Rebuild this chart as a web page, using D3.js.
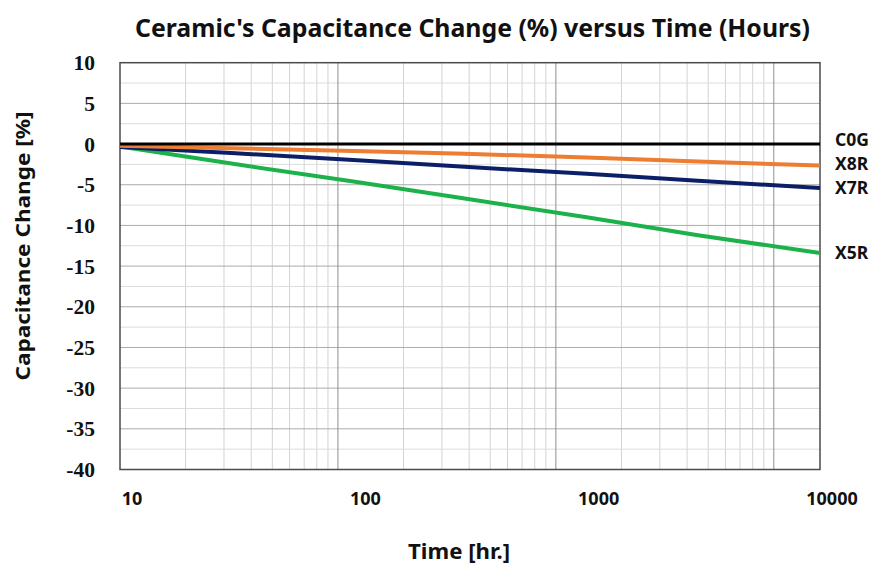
<!DOCTYPE html>
<html>
<head>
<meta charset="utf-8">
<script src="https://cdn.jsdelivr.net/npm/d3@7"></script>
<style>
  html, body { margin: 0; padding: 0; background: #fff; }
  svg { display: block; }
</style>
</head>
<body>
<svg id="chart" width="873" height="565"></svg>
<script>
// ---- data ----
const hours = [10, 30, 100, 300, 1000, 3000, 10000];
const seriesNames = ["X5R", "X7R", "X8R", "C0G"];
const c0g = [0, 0, 0, 0, 0, 0, 0];
const x8r = [-0.2, -0.5, -0.85, -1.2, -1.65, -2.15, -2.65];
const x7r = [-0.35, -1.1, -1.95, -2.8, -3.65, -4.5, -5.4];
const x5r = [-0.3, -2.4, -4.6, -6.7, -9.0, -11.2, -13.4];
const xTickLabels = [10, 100, 1000, 10000];
const yTickLabels = [10, 5, 0, -5, -10, -15, -20, -25, -30, -35, -40];
const titleText = "Ceramic's Capacitance Change (%) versus Time (Hours)";
const xTitle = "Time [hr.]";
const yTitle = "Capacitance Change [%]";

// ---- layout / style ----
const plotL = 120, plotR = 820, plotT = 62.7, plotB = 469.5;
const gridDecadeFrac = 0.934;   // grid decades are drawn slightly narrower than the data decades
const colors = { C0G: "#000000", X8R: "#ED7D31", X7R: "#0B1F66", X5R: "#1DB14B" };
const widths = { C0G: 3, X8R: 4, X7R: 4, X5R: 4 };
const sans = "'Noto Sans', 'Open Sans', sans-serif";
const serif = "'Liberation Serif', 'DejaVu Serif', serif";
const labelGap = 24;

const values = { C0G: c0g, X8R: x8r, X7R: x7r, X5R: x5r };

const svg = d3.select("#chart");

const x = d3.scaleLog().domain([10, 10000]).range([plotL, plotR]);
const xGrid = d3.scaleLog().domain([10, 10000]).range([plotL, plotL + (plotR - plotL) * gridDecadeFrac]);
const y = d3.scaleLinear().domain([-40, 10]).range([plotB, plotT]);

// grid values
const gridMinor = [], gridMajor = [];
[10, 100, 1000].forEach(d => {
  for (let k = 2; k <= 9; k++) gridMinor.push(d * k);
  gridMajor.push(d * 10);
});
const hMinor = d3.range(-37.5, 10, 5);
const hMajor = d3.range(-35, 10, 5);

const g = svg.append("g");

g.selectAll("line.vminor").data(gridMinor).join("line")
  .attr("x1", d => xGrid(d)).attr("x2", d => xGrid(d))
  .attr("y1", plotT).attr("y2", plotB)
  .attr("stroke", "#d3d3d3").attr("stroke-width", 1);
g.selectAll("line.hminor").data(hMinor).join("line")
  .attr("x1", plotL).attr("x2", plotR)
  .attr("y1", d => y(d)).attr("y2", d => y(d))
  .attr("stroke", "#dcdcdc").attr("stroke-width", 1);
g.selectAll("line.hmajor").data(hMajor).join("line")
  .attr("x1", plotL).attr("x2", plotR)
  .attr("y1", d => y(d)).attr("y2", d => y(d))
  .attr("stroke", "#ababab").attr("stroke-width", 1);
g.selectAll("line.vmajor").data(gridMajor).join("line")
  .attr("x1", d => xGrid(d)).attr("x2", d => xGrid(d))
  .attr("y1", plotT).attr("y2", plotB)
  .attr("stroke", "#8f8f8f").attr("stroke-width", 1);

// plot border
g.append("rect")
  .attr("x", plotL).attr("y", plotT)
  .attr("width", plotR - plotL).attr("height", plotB - plotT)
  .attr("fill", "none").attr("stroke", "#4a4a4a").attr("stroke-width", 1.5);

// lines
const line = d3.line().x(d => x(d[0])).y(d => y(d[1]));
seriesNames.forEach(name => {
  const pts = hours.map((h, i) => [h, values[name][i]]);
  g.append("path").datum(pts)
    .attr("d", line)
    .attr("fill", "none")
    .attr("stroke", colors[name])
    .attr("stroke-width", widths[name])
    .attr("stroke-linejoin", "round");
});

// series labels at line ends, pushed apart (bottom-up) to avoid overlap
const labelPos = seriesNames.map(name => ({ name, py: y(values[name][values[name].length - 1]) }))
  .sort((a, b) => b.py - a.py);
for (let i = 1; i < labelPos.length; i++) {
  if (labelPos[i - 1].py - labelPos[i].py < labelGap) labelPos[i].py = labelPos[i - 1].py - labelGap;
}
svg.selectAll("text.slabel").data(labelPos).join("text")
  .attr("x", plotR + 15).attr("y", d => d.py)
  .attr("dy", "0.36em")
  .attr("font-family", sans).attr("font-weight", "bold")
  .attr("font-size", 17.5).attr("fill", "#111")
  .text(d => d.name);

// y tick labels
svg.selectAll("text.ytick").data(yTickLabels).join("text")
  .attr("x", 95).attr("y", d => y(d))
  .attr("dy", "0.35em")
  .attr("text-anchor", "end")
  .attr("font-family", serif).attr("font-weight", "bold")
  .attr("font-size", 21.5).attr("fill", "#111")
  .text(d => d);

// x tick labels
svg.selectAll("text.xtick").data(xTickLabels).join("text")
  .attr("x", d => x(d) + 12).attr("y", 499)
  .attr("dy", "0.35em")
  .attr("text-anchor", "middle")
  .attr("font-family", sans).attr("font-weight", "bold")
  .attr("font-size", 18).attr("fill", "#111")
  .text(d => d);

// titles
svg.append("text")
  .attr("x", 472.5).attr("y", 37)
  .attr("text-anchor", "middle")
  .attr("font-family", sans).attr("font-weight", "bold")
  .attr("font-size", 25).attr("fill", "#111")
  .attr("textLength", 675).attr("lengthAdjust", "spacingAndGlyphs")
  .text(titleText);

svg.append("text")
  .attr("x", 459).attr("y", 559)
  .attr("text-anchor", "middle")
  .attr("font-family", sans).attr("font-weight", "bold")
  .attr("font-size", 21).attr("fill", "#111")
  .attr("textLength", 102).attr("lengthAdjust", "spacingAndGlyphs")
  .text(xTitle);

svg.append("text")
  .attr("transform", "translate(30,246) rotate(-90)")
  .attr("text-anchor", "middle")
  .attr("font-family", sans).attr("font-weight", "bold")
  .attr("font-size", 20).attr("fill", "#111")
  .attr("textLength", 269).attr("lengthAdjust", "spacingAndGlyphs")
  .text(yTitle);
</script>
</body>
</html>
